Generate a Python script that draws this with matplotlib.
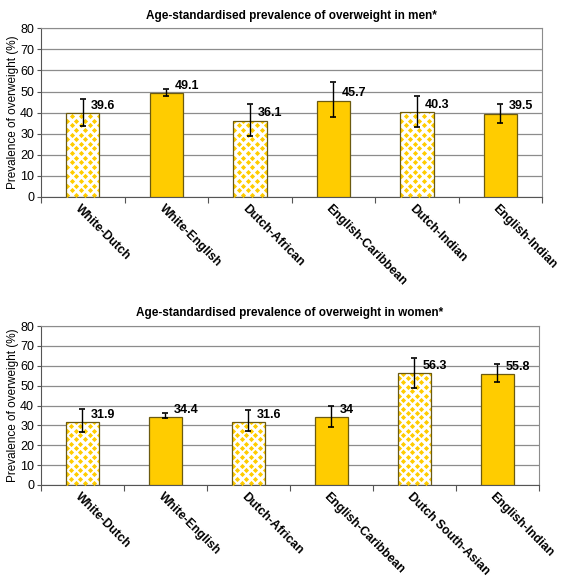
import numpy as np
import matplotlib.pyplot as plt
from matplotlib.transforms import ScaledTranslation

plt.rcParams['font.family'] = ['Liberation Sans', 'DejaVu Sans']

# data
men_groups = ['White-Dutch', 'White-English', 'Dutch-African', 'English-Caribbean',
              'Dutch-Indian', 'English-Indian']
men_vals = [39.6, 49.1, 36.1, 45.7, 40.3, 39.5]
men_lo = [33.6, 48.0, 28.9, 37.7, 33.0, 35.2]
men_hi = [46.4, 51.0, 44.0, 54.4, 47.8, 44.0]

women_groups = ['White-Dutch', 'White-English', 'Dutch-African', 'English-Caribbean',
                'Dutch South-Asian', 'English-Indian']
women_vals = [31.9, 34.4, 31.6, 34.0, 56.3, 55.8]
women_lo = [26.8, 33.7, 27.0, 29.4, 48.8, 51.7]
women_hi = [38.2, 36.1, 37.7, 39.9, 63.7, 60.9]

women_labels = ['31.9', '34.4', '31.6', '34', '56.3', '55.8']
men_labels = ['39.6', '49.1', '36.1', '45.7', '40.3', '39.5']

dutch = [True, False, True, False, True, False]   # patterned bars

yellow = '#FFCC00'
edge = '#6b5a10'
gridc = '#8c8c8c'

fig = plt.figure(figsize=(5.65, 5.76), dpi=100)
ax1 = fig.add_axes([0.0726, 0.658, 0.887, 0.293])
ax2 = fig.add_axes([0.0726, 0.158, 0.881, 0.276])


def draw(ax, groups, vals, lo, hi, labels, title):
    x = np.arange(len(groups))
    w = 0.4
    ax.set_xlim(-0.5, len(groups) - 0.5)
    ax.set_ylim(0, 80)
    ax.set_yticks(np.arange(0, 81, 10))
    ax.yaxis.grid(True, color=gridc, lw=0.9)
    ax.set_axisbelow(True)
    for i in x:
        if dutch[i]:
            b = ax.bar(i, vals[i], w, color='white', edgecolor='none', zorder=2)[0]
            # diamond pattern clipped to the bar
            px = np.arange(i - w / 2 + 0.01, i + w / 2 + 0.06, 0.11)
            py = np.arange(1.0, vals[i] + 3, 2.2)
            gx, gy = [], []
            for r, yy in enumerate(py):
                off = 0.055 if r % 2 else 0.0
                gx.extend(px + off)
                gy.extend([yy] * len(px))
            sc = ax.scatter(gx, gy, marker='D', s=7, color=yellow, lw=0, zorder=3)
            sc.set_clip_path(b)
            ax.bar(i, vals[i], w, fill=False, edgecolor=edge, lw=0.9, zorder=4)
        else:
            ax.bar(i, vals[i], w, color=yellow, edgecolor=edge, lw=0.9, zorder=4)
    err = [np.array(vals) - np.array(lo), np.array(hi) - np.array(vals)]
    ax.errorbar(x, vals, yerr=err, fmt='none', ecolor='black', elinewidth=1,
                capsize=2.5, capthick=1.2, zorder=5)
    for i in x:
        ax.text(i + 0.1, vals[i] + 3.5, labels[i], fontsize=9, fontweight='bold',
                ha='left', va='center', zorder=6)
    ax.set_xticks(np.arange(-0.5, len(groups), 1.0))
    ax.set_xticklabels([])
    ax.tick_params(axis='x', which='major', length=4, color='#555555', direction='out')
    ax.set_xticks(x, minor=True)
    ax.set_xticklabels(groups, minor=True, rotation=-45, ha='left', va='center',
                       rotation_mode='anchor', fontsize=8.8, fontweight='bold')
    ax.tick_params(axis='x', which='minor', length=0, pad=7)
    off = ScaledTranslation(-4 / 72, 0, fig.dpi_scale_trans)
    for lab in ax.get_xticklabels(minor=True):
        lab.set_transform(lab.get_transform() + off)
    ax.tick_params(axis='y', length=3, color='#555555', labelsize=9, pad=2)
    for s in ['top', 'right']:
        ax.spines[s].set_color(gridc)
    for s in ['left', 'bottom']:
        ax.spines[s].set_color('#555555')
    ax.set_ylabel('Prevalence of overweight (%)', fontsize=8.5, labelpad=1)
    ax.set_title(title, fontsize=8.5, fontweight='bold', pad=7)


draw(ax1, men_groups, men_vals, men_lo, men_hi, men_labels,
     'Age-standardised prevalence of overweight in men*')
draw(ax2, women_groups, women_vals, women_lo, women_hi, women_labels,
     'Age-standardised prevalence of overweight in women*')

fig.savefig('out.png', dpi=100)
